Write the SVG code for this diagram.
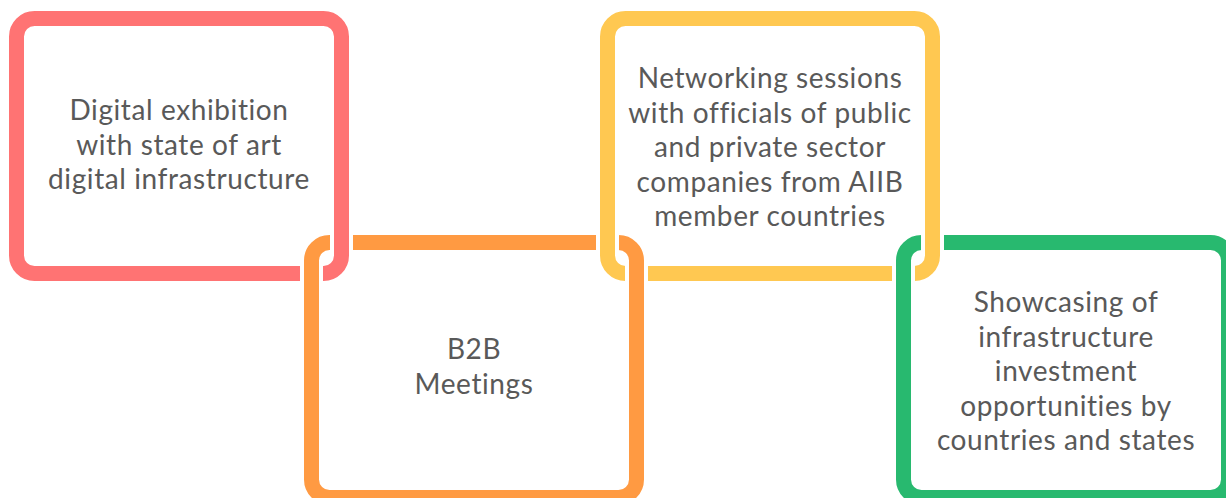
<svg xmlns="http://www.w3.org/2000/svg" width="1226" height="498" viewBox="0 0 1226 498">
  <style>
    .frame { fill: none; stroke-width: 15; }
    .red { stroke: #FF7373; }
    .orange { stroke: #FF9A42; }
    .yellow { stroke: #FFC851; }
    .green { stroke: #28B96F; }
    .halo { stroke: #FFFFFF; stroke-width: 23; stroke-linecap: butt; fill: none; }
    .seg { stroke-width: 15; stroke-linecap: butt; fill: none; }
    .label { font-family: Lato, "Noto Sans", "Liberation Sans", sans-serif; font-size: 28px; letter-spacing: 0.6px; fill: #595959; text-anchor: middle; }
  </style>

  <rect width="1226" height="498" fill="#FFFFFF"/>

  <!-- stage 1: digital exhibition -->
  <g id="node-exhibition">
    <rect class="frame red" x="16.5" y="18.5" width="325" height="255" rx="18"/>
    <text class="label" x="179" y="120">Digital exhibition</text>
    <text class="label" x="179" y="154.5">with state of art</text>
    <text class="label" x="179" y="189">digital infrastructure</text>
  </g>

  <!-- stage 2: B2B meetings -->
  <g id="node-b2b">
    <rect class="frame orange" x="311.5" y="242.5" width="325" height="255" rx="18"/>
    <text class="label" x="474" y="359">B2B</text>
    <text class="label" x="474" y="394">Meetings</text>
  </g>

  <!-- stage 3: networking sessions -->
  <g id="node-networking">
    <rect class="frame yellow" x="607.5" y="18.5" width="325" height="255" rx="18"/>
    <text class="label" x="770" y="88">Networking sessions</text>
    <text class="label" x="770" y="122.5">with officials of public</text>
    <text class="label" x="770" y="157">and private sector</text>
    <text class="label" x="770" y="191.5">companies from AIIB</text>
    <text class="label" x="770" y="226">member countries</text>
  </g>

  <!-- stage 4: investment showcase -->
  <g id="node-showcase">
    <rect class="frame green" x="903.5" y="242.5" width="325" height="255" rx="18"/>
    <text class="label" x="1066" y="312">Showcasing of</text>
    <text class="label" x="1066" y="346.5">infrastructure</text>
    <text class="label" x="1066" y="381">investment</text>
    <text class="label" x="1066" y="415.5">opportunities by</text>
    <text class="label" x="1066" y="450">countries and states</text>
  </g>

  <!-- interlocking crossings: vertical sides pass over horizontal sides -->
  <g id="links">
    <line class="halo" x1="311.5" y1="264" x2="311.5" y2="283"/>
    <line class="seg orange" x1="311.5" y1="263" x2="311.5" y2="284"/>
    <line class="halo" x1="341.5" y1="233" x2="341.5" y2="252"/>
    <line class="seg red" x1="341.5" y1="232" x2="341.5" y2="253"/>

    <line class="halo" x1="607.5" y1="233" x2="607.5" y2="252"/>
    <line class="seg yellow" x1="607.5" y1="232" x2="607.5" y2="253"/>
    <line class="halo" x1="636.5" y1="264" x2="636.5" y2="283"/>
    <line class="seg orange" x1="636.5" y1="263" x2="636.5" y2="284"/>

    <line class="halo" x1="903.5" y1="264" x2="903.5" y2="283"/>
    <line class="seg green" x1="903.5" y1="263" x2="903.5" y2="284"/>
    <line class="halo" x1="932.5" y1="233" x2="932.5" y2="252"/>
    <line class="seg yellow" x1="932.5" y1="232" x2="932.5" y2="253"/>
  </g>
</svg>
